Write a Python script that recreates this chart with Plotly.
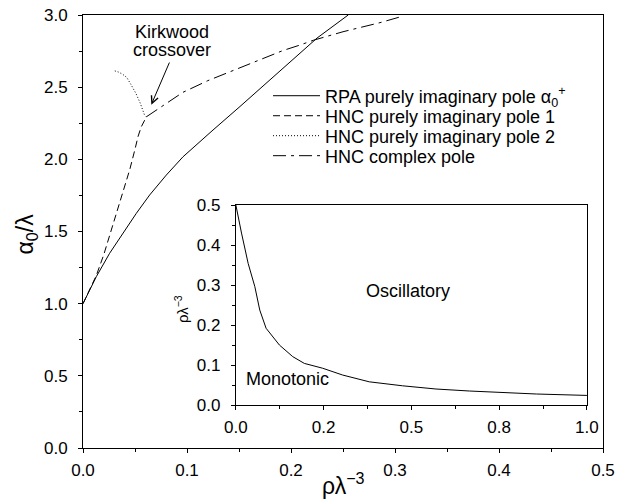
import plotly.graph_objects as go

# ---- data ----
rpa_x = [0, 0.0128, 0.0256, 0.0385, 0.0513, 0.0641, 0.0801, 0.0962, 0.112, 0.125, 0.15, 0.175, 0.2, 0.225, 0.255]
rpa_y = [1.0, 1.187, 1.349, 1.487, 1.626, 1.753, 1.891, 2.018, 2.122, 2.203, 2.36, 2.52, 2.68, 2.84, 3.0]

hnc1_x = [0, 0.0128, 0.02, 0.03, 0.04, 0.045, 0.05, 0.053, 0.056, 0.061]
hnc1_y = [1.0, 1.195, 1.34, 1.57, 1.80, 1.93, 2.07, 2.16, 2.225, 2.295]

hnc2_x = [0.061, 0.059, 0.055, 0.051, 0.046, 0.042, 0.038, 0.034, 0.030]
hnc2_y = [2.295, 2.31, 2.39, 2.455, 2.52, 2.568, 2.59, 2.605, 2.614]

cplx_x = [0.061, 0.08, 0.096, 0.12, 0.144, 0.168, 0.192, 0.2087, 0.2215, 0.25, 0.2856, 0.308]
cplx_y = [2.295, 2.39, 2.464, 2.545, 2.614, 2.685, 2.753, 2.792, 2.825, 2.884, 2.947, 2.993]

inset_x = [0, 0.002, 0.016, 0.035, 0.054, 0.068, 0.086, 0.124, 0.162, 0.195, 0.247, 0.304, 0.38, 0.475, 0.57, 0.665, 0.76, 0.856, 1.0]
inset_y = [0.5, 0.49, 0.43, 0.354, 0.296, 0.2375, 0.192, 0.15, 0.121, 0.104, 0.092, 0.075, 0.058, 0.048, 0.04, 0.035, 0.031, 0.0275, 0.024]

inset_xtickvals = [0, 0.25, 0.5, 0.75, 1.0]
inset_xticktext = ["0.0", "0.2", "0.5", "0.8", "1.0"]

names = ["RPA purely imaginary pole α<sub>0</sub><sup>+</sup>",
         "HNC purely imaginary pole 1",
         "HNC purely imaginary pole 2",
         "HNC complex pole"]

FONT = "Liberation Sans, Arial, sans-serif"
TICKF = dict(family=FONT, size=17, color="black")
BLACK = "black"

fig = go.Figure()
fig.add_trace(go.Scatter(x=rpa_x, y=rpa_y, mode="lines", name=names[0],
                         line=dict(color=BLACK, width=1), legend="legend"))
fig.add_trace(go.Scatter(x=hnc1_x, y=hnc1_y, mode="lines", name=names[1],
                         line=dict(color=BLACK, width=1, dash="7px,4px"), legend="legend2"))
fig.add_trace(go.Scatter(x=hnc2_x, y=hnc2_y, mode="lines", name=names[2],
                         line=dict(color=BLACK, width=1, dash="1px,2px"), legend="legend3"))
fig.add_trace(go.Scatter(x=cplx_x, y=cplx_y, mode="lines", name=names[3],
                         line=dict(color=BLACK, width=1, dash="13px,5px,3px,5px"), legend="legend4"))
fig.add_trace(go.Scatter(x=inset_x, y=inset_y, mode="lines", showlegend=False,
                         line=dict(color=BLACK, width=1), xaxis="x2", yaxis="y2"))

axis_common = dict(showline=True, mirror=True, linecolor=BLACK, linewidth=1,
                   showgrid=False, zeroline=False, ticks="outside", ticklen=4,
                   tickcolor=BLACK, tickwidth=1, tickfont=TICKF, automargin=False)

def leg(y):
    return dict(x=0.3558, y=y, xanchor="left", yanchor="middle", bgcolor="rgba(0,0,0,0)",
                font=dict(family=FONT, size=18, color=BLACK), itemwidth=47,
                borderwidth=0, tracegroupgap=0)

fig.update_layout(
    width=631, height=504, autosize=False,
    margin=dict(l=83, r=28, t=15, b=56, pad=0),
    paper_bgcolor="white", plot_bgcolor="white",
    font=dict(family=FONT, color=BLACK),
    xaxis=dict(range=[0, 0.5], domain=[0, 1], dtick=0.1, tick0=0, tickformat=".1f",
               minor=dict(dtick=0.05, ticks="outside", ticklen=3, tickcolor=BLACK),
               ticklabelstandoff=3, **axis_common),
    yaxis=dict(range=[0, 3], domain=[0, 1], dtick=0.5, tick0=0, tickformat=".1f",
               minor=dict(dtick=0.25, ticks="outside", ticklen=3, tickcolor=BLACK),
               ticklabelstandoff=7, **axis_common),
    xaxis2=dict(range=[0, 1], domain=[0.294, 0.969], anchor="y2",
                tickmode="array", tickvals=inset_xtickvals, ticktext=inset_xticktext,
                minor=dict(dtick=0.125, tick0=0, ticks="outside", ticklen=3, tickcolor=BLACK),
                ticklabelstandoff=3, **axis_common),
    yaxis2=dict(range=[0, 0.5], domain=[0.0993, 0.561], anchor="x2", dtick=0.1, tick0=0,
                tickformat=".1f",
                minor=dict(dtick=0.05, ticks="outside", ticklen=3, tickcolor=BLACK),
                ticklabelstandoff=7, **axis_common),
    legend=leg(0.8129), legend2=leg(0.7667), legend3=leg(0.7206), legend4=leg(0.6744),
)

# axis titles
fig.add_annotation(text="ρλ<sup>−3</sup>", x=0.5, y=-0.083, xref="paper", yref="paper",
                   xanchor="center", yanchor="middle", showarrow=False,
                   font=dict(family=FONT, size=23, color=BLACK))
fig.add_annotation(text="α<sub>0</sub>/λ", x=-0.108, y=0.495, xref="paper", yref="paper",
                   xanchor="center", yanchor="middle", textangle=-90, showarrow=False,
                   font=dict(family=FONT, size=23, color=BLACK))
fig.add_annotation(text="ρλ<sup>−3</sup>", x=0.1885, y=0.321, xref="paper", yref="paper",
                   xanchor="center", yanchor="middle", textangle=-90, showarrow=False,
                   font=dict(family=FONT, size=15, color=BLACK))

# Kirkwood crossover label + arrow
fig.add_annotation(text="Kirkwood", x=0.0856, y=2.879, xref="x", yref="y",
                   showarrow=False, font=dict(family=FONT, size=18, color=BLACK))
fig.add_annotation(text="crossover", x=0.0856, y=2.761, xref="x", yref="y",
                   showarrow=False, font=dict(family=FONT, size=18, color=BLACK))
fig.add_annotation(text="", x=0.0657, y=2.379, ax=0.0837, ay=2.681,
                   xref="x", yref="y", axref="x", ayref="y", showarrow=True,
                   arrowhead=5, arrowsize=1.4, arrowwidth=1, arrowcolor=BLACK)

# inset labels
fig.add_annotation(text="Oscillatory", x=0.489, y=0.286, xref="x2", yref="y2",
                   showarrow=False, font=dict(family=FONT, size=18, color=BLACK))
fig.add_annotation(text="Monotonic", x=0.147, y=0.066, xref="x2", yref="y2",
                   showarrow=False, font=dict(family=FONT, size=18, color=BLACK))
fig.add_annotation(text="x<sub>2</sub>", x=0.622, y=-0.06, xref="x2", yref="y2",
                   showarrow=False, font=dict(family=FONT, size=17, color=BLACK))

fig.write_html("out.html", config={"displayModeBar": False},
               post_script="document.body.style.margin='0px';")
